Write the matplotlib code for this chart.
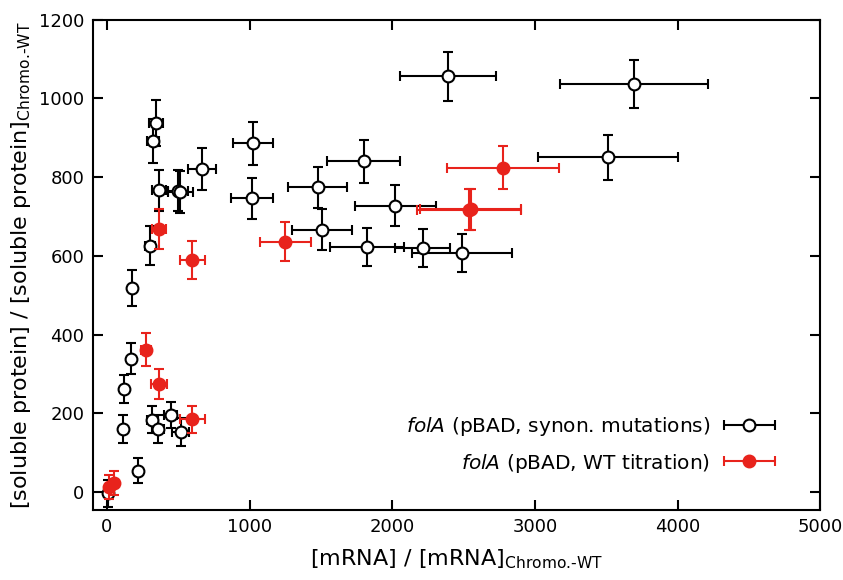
import numpy as np
import matplotlib
matplotlib.use("Agg")
import matplotlib.pyplot as plt
from matplotlib.container import ErrorbarContainer
from matplotlib.legend_handler import HandlerErrorbar

# folA (pBAD, synon. mutations)
syn_x = [9, 115, 119, 168, 173, 215, 301, 317, 320, 343, 359, 367, 448, 500, 515,
         517, 669, 1016, 1023, 1478, 1508, 1799, 1823, 2021, 2212, 2392, 2486, 3513, 3692]
syn_y = [-3, 161, 262, 339, 518, 54, 626, 184, 892, 937, 161, 767, 195, 766, 762,
         153, 820, 746, 886, 774, 667, 840, 622, 728, 620, 1056, 608, 850, 1037]
syn_xerr = [20, 15, 15, 15, 15, 15, 35, 40, 42, 47, 40, 49, 45, 70, 85,
            58, 98, 146, 143, 207, 212, 257, 259, 283, 190, 335, 350, 493, 519]
syn_yerr = [35, 35, 36, 39, 46, 32, 50, 35, 55, 59, 35, 52, 33, 53, 53,
            36, 53, 51, 55, 53, 51, 55, 48, 51, 48, 62, 48, 56, 61]

# folA (pBAD, WT titration)
wt_x = [16, 49, 270, 364, 366, 599, 599, 1250, 2538, 2549, 2776]
wt_y = [13, 23, 362, 668, 275, 589, 185, 636, 717, 719, 824]
wt_xerr = [20, 25, 35, 50, 55, 85, 87, 177, 367, 355, 390]
wt_yerr = [31, 31, 41, 51, 38, 48, 35, 49, 52, 52, 54]

red = "#e8231c"

fig = plt.figure(figsize=(8.43, 5.8), dpi=100)
ax = fig.add_axes([0.110, 0.121, 0.863, 0.845])

eb1 = ax.errorbar(syn_x, syn_y, xerr=syn_xerr, yerr=syn_yerr, fmt="o", color="black",
                  mfc="white", mec="black", ms=8.5, mew=1.5, elinewidth=1.5,
                  capsize=3.8, capthick=1.5, zorder=2)
eb2 = ax.errorbar(wt_x, wt_y, xerr=wt_xerr, yerr=wt_yerr, fmt="o", color=red,
                  mfc=red, mec=red, ms=8.5, mew=1.5, elinewidth=1.5,
                  capsize=3.8, capthick=1.5, zorder=3)

# legend shows only the horizontal error bars
h1 = ErrorbarContainer(eb1.lines, has_xerr=True, has_yerr=False)
h2 = ErrorbarContainer(eb2.lines, has_xerr=True, has_yerr=False)
ax.legend([h1, h2],
          [r"$\it{folA}$ (pBAD, synon. mutations)", r"$\it{folA}$ (pBAD, WT titration)"],
          loc="lower right", bbox_to_anchor=(0.965, 0.035), frameon=False,
          markerfirst=False, fontsize=14.5, handlelength=2.7, handletextpad=0.6,
          labelspacing=0.65,
          handler_map={ErrorbarContainer: HandlerErrorbar(xerr_size=1.25)})

ax.set_xlim(-100, 5000)
ax.set_ylim(-45, 1200)
ax.set_xticks([0, 1000, 2000, 3000, 4000, 5000])
ax.set_yticks([0, 200, 400, 600, 800, 1000, 1200])
ax.tick_params(direction="in", top=True, right=True, length=7, width=1.5, labelsize=13, pad=6)
for s in ax.spines.values():
    s.set_linewidth(1.5)

ax.set_xlabel(r"[mRNA] / [mRNA]$_{\text{Chromo.-WT}}$", fontsize=16, labelpad=8)
ax.set_ylabel(r"[soluble protein] / [soluble protein]$_{\text{Chromo.-WT}}$", fontsize=16,
              labelpad=4)

fig.savefig("out.png", dpi=100)
